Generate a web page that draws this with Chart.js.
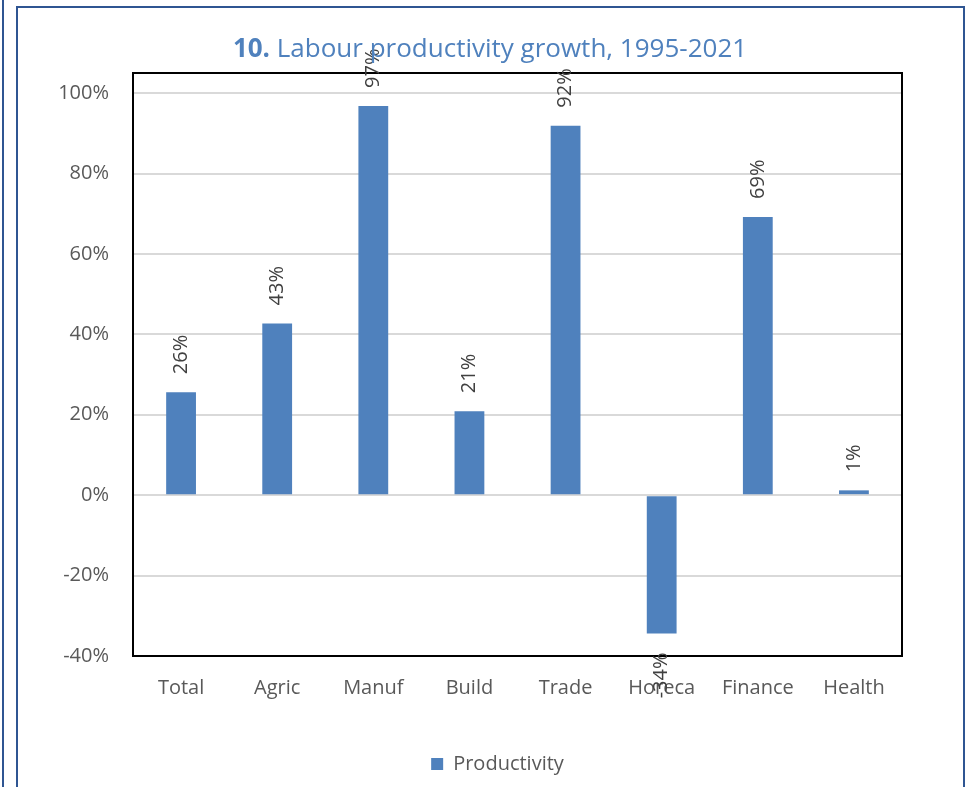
<!DOCTYPE html>
<html>
<head>
<meta charset="utf-8">
<script src="https://cdn.jsdelivr.net/npm/chart.js@4.4.1/dist/chart.umd.min.js"></script>
<style>
  html, body { margin: 0; padding: 0; background: #fff; }
  #wrap { position: relative; width: 969px; height: 787px; overflow: hidden; }
  #frame { position: absolute; left: 16px; top: 6px; width: 945px; height: 800px; border: 2px solid #2f5592; }
  #edge { position: absolute; left: 2px; top: 0; width: 2px; height: 787px; background: #2f5592; }
  canvas { position: absolute; left: 0; top: 0; }
</style>
</head>
<body>
<div id="wrap">
  <div id="edge"></div>
  <div id="frame"></div>
  <canvas id="chart" width="969" height="787"></canvas>
</div>
<script>
// ------------------ DATA ------------------
const categories = ["Total", "Agric", "Manuf", "Build", "Trade", "Horeca", "Finance", "Health"];
const productivity = [25.6, 42.7, 96.8, 20.9, 91.9, -34.4, 69.2, 1.2];
const barLabels = ["26%", "43%", "97%", "21%", "92%", "-34%", "69%", "1%"];
const yTicks = [-40, -20, 0, 20, 40, 60, 80, 100];

const FONT = "'Open Sans', 'Noto Sans', sans-serif";
const BLUE = "#4f81bd";

// ------------------ PLUGINS ------------------
// Title with a bold number in front
const titlePlugin = {
    id: "mixedTitle",
    afterDraw(chart) {
        const ctx = chart.ctx;
        const bold = "10.";
        const rest = " Labour productivity growth, 1995-2021";
        ctx.save();
        ctx.fillStyle = BLUE;
        ctx.textBaseline = "alphabetic";
        ctx.font = "bold 26px " + FONT;
        const wb = ctx.measureText(bold).width;
        ctx.font = "26px " + FONT;
        const wr = ctx.measureText(rest).width;
        let x = 490 - (wb + wr) / 2;
        ctx.font = "bold 26px " + FONT;
        ctx.fillText(bold, x, 57);
        ctx.font = "26px " + FONT;
        ctx.fillText(rest, x + wb, 57);
        ctx.restore();
    }
};

// Move the legend a bit to the right, as in the original
const legendShift = {
    id: "legendShift",
    afterLayout(chart) {
        chart.legend.left += 34;
        chart.legend.right += 34;
    }
};

// Black box round the plot area
const boxPlugin = {
    id: "plotBox",
    beforeDatasetsDraw(chart) {
        const a = chart.chartArea;
        const ctx = chart.ctx;
        ctx.save();
        ctx.strokeStyle = "#000";
        ctx.lineWidth = 2;
        ctx.strokeRect(a.left, a.top, a.right - a.left, a.bottom - a.top);
        ctx.restore();
    }
};

// Rotated value labels at the end of each bar
const labelPlugin = {
    id: "barValues",
    afterDatasetsDraw(chart) {
        const ctx = chart.ctx;
        const meta = chart.getDatasetMeta(0);
        ctx.save();
        ctx.fillStyle = "#404040";
        ctx.font = "20px " + FONT;
        ctx.textBaseline = "middle";
        meta.data.forEach((bar, i) => {
            const v = productivity[i];
            ctx.save();
            if (v >= 0) {
                ctx.translate(bar.x, bar.y - 18);
                ctx.rotate(-Math.PI / 2);
                ctx.textAlign = "left";
            } else {
                ctx.translate(bar.x, bar.y + 19);
                ctx.rotate(-Math.PI / 2);
                ctx.textAlign = "right";
            }
            ctx.fillText(barLabels[i], 0, 0);
            ctx.restore();
        });
        ctx.restore();
    }
};

// ------------------ CHART ------------------
new Chart(document.getElementById("chart"), {
    type: "bar",
    data: {
        labels: categories,
        datasets: [{
            label: "Productivity",
            data: productivity,
            backgroundColor: BLUE,
            borderWidth: 0,
            barPercentage: 0.62,
            categoryPercentage: 0.5
        }]
    },
    options: {
        responsive: false,
        animation: false,
        layout: { padding: { left: 25, right: 67, top: 73, bottom: 3 } },
        plugins: {
            title: { display: false },
            tooltip: { enabled: false },
            legend: {
                position: "bottom",
                labels: {
                    boxWidth: 12,
                    boxHeight: 12,
                    padding: 10,
                    color: "#595959",
                    font: { family: FONT, size: 20 }
                }
            }
        },
        scales: {
            x: {
                grid: { display: false },
                border: { display: false },
                ticks: {
                    color: "#595959",
                    padding: 12,
                    maxRotation: 0,
                    font: { family: FONT, size: 20 }
                },
                afterFit(scale) { scale.height = 88; }
            },
            y: {
                min: -40,
                max: 105,
                grid: { color: "#d9d9d9", lineWidth: 2, drawTicks: false },
                border: { display: false },
                ticks: {
                    color: "#595959",
                    padding: 24,
                    font: { family: FONT, size: 20 },
                    callback: (v) => v + "%"
                },
                afterBuildTicks(scale) {
                    scale.ticks = yTicks.map(v => ({ value: v }));
                },
                afterFit(scale) { scale.width = 108; }
            }
        }
    },
    plugins: [legendShift, boxPlugin, labelPlugin, titlePlugin]
});
</script>
</body>
</html>
